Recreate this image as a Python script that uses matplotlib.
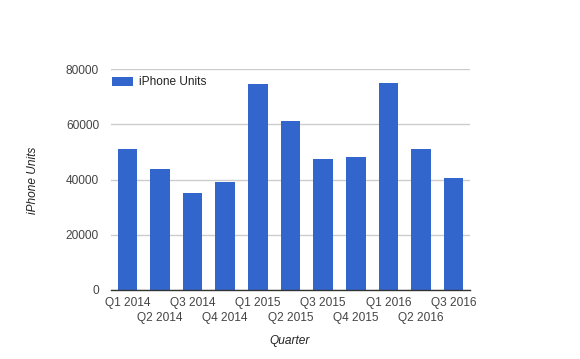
import matplotlib
matplotlib.use('Agg')
import matplotlib.pyplot as plt

plt.rcParams['font.family'] = ['Liberation Sans', 'DejaVu Sans']

quarters = ['Q1 2014', 'Q2 2014', 'Q3 2014', 'Q4 2014', 'Q1 2015', 'Q2 2015',
            'Q3 2015', 'Q4 2015', 'Q1 2016', 'Q2 2016', 'Q3 2016']
units = [51025, 43719, 35203, 39272, 74468, 61170, 47534, 48046, 74779, 51193, 40399]
y_ticks = [0, 20000, 40000, 60000, 80000]

bar_color = '#3366cc'
fs = 8.6

fig = plt.figure(figsize=(5.8, 3.59), dpi=100)
ax = fig.add_axes([111 / 580, 1 - 290 / 359, 359 / 580, 221 / 359])

x = list(range(len(quarters)))
ax.bar(x, units, width=0.6, color=bar_color, label='iPhone Units', zorder=3)

ax.set_xlim(-0.5, len(quarters) - 0.5)
ax.set_ylim(0, 80000)
ax.set_yticks(y_ticks)
ax.set_yticklabels([str(v) for v in y_ticks])
ax.set_xticks(x)
ax.set_xticklabels(quarters)

ax.tick_params(axis='both', length=0, labelsize=fs, labelcolor='#444444')
ax.tick_params(axis='y', pad=8.6)
ax.tick_params(axis='x', pad=5)
# second row for every other quarter label
for i, tick in enumerate(ax.xaxis.get_major_ticks()):
    if i % 2 == 1:
        tick.set_pad(5 + 11)

ax.yaxis.grid(True, color='#cccccc', linewidth=1, zorder=0)
ax.set_axisbelow(True)
for side in ['top', 'right', 'left']:
    ax.spines[side].set_visible(False)
ax.spines['bottom'].set_color('#333333')
ax.spines['bottom'].set_linewidth(1)
ax.spines['bottom'].set_zorder(4)

ax.legend(loc='upper left', bbox_to_anchor=(0.002, 0.967), frameon=False,
          fontsize=fs, handlelength=1.75, handleheight=0.8, handletextpad=0.5,
          borderpad=0, borderaxespad=0, labelcolor='#222222')

fig.text(33 / 580, 1 - 180 / 359, 'iPhone Units', rotation=90, ha='center', va='center',
         fontsize=fs, style='italic', color='#222222')
fig.text(290 / 580, 1 - 341 / 359, 'Quarter', ha='center', va='center',
         fontsize=fs, style='italic', color='#222222')

fig.savefig('out.png', dpi=100)
